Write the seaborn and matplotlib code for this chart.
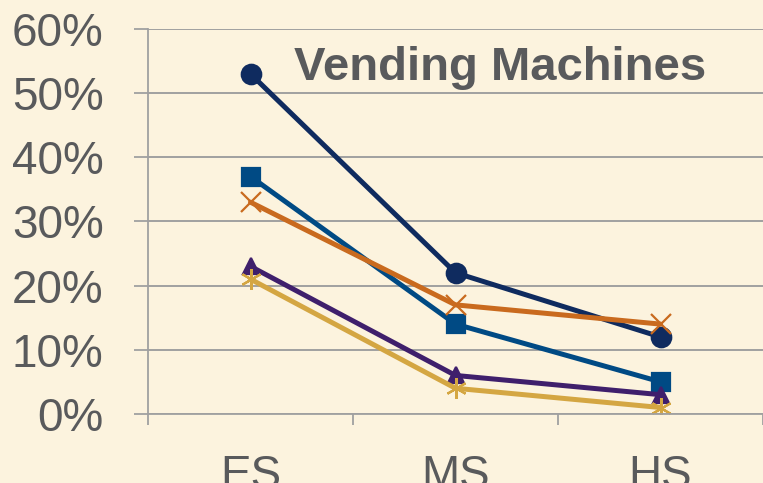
import numpy as np
import pandas as pd
import seaborn as sns
import matplotlib.pyplot as plt
from matplotlib.ticker import FixedLocator, FuncFormatter

# Chart data (share of schools)
levels = ['ES', 'MS', 'HS']
series_names = ['Series A', 'Series B', 'Series C', 'Series D', 'Series E']
series_a = [0.53, 0.22, 0.12]
series_b = [0.37, 0.14, 0.05]
series_c = [0.33, 0.17, 0.14]
series_d = [0.23, 0.06, 0.03]
series_e = [0.21, 0.04, 0.01]
y_ticks = [0.0, 0.1, 0.2, 0.3, 0.4, 0.5, 0.6]
title = 'Vending Machines'

colors = ['#0F2B5F', '#004A84', '#C96A1E', '#3F1F6C', '#D4A642']
markers = ['o', 's', 'x', '^', (6, 2, 0)]
msizes = [14, 13, 14, 12, 15]

bg = '#FCF3DE'
grey = '#A0A0A0'
text_grey = '#595A5C'

sns.set_style('white')
plt.rcParams['font.family'] = ['Liberation Sans', 'DejaVu Sans']

fig = plt.figure(figsize=(7.63, 4.83), dpi=100, facecolor=bg)
ax = fig.add_axes([0.194, 0.143, 0.806, 0.797])
ax.set_facecolor(bg)

# one seaborn call per series (filled and line markers can't share a style map)
all_vals = [series_a, series_b, series_c, series_d, series_e]
for name, vals, c, m, ms in zip(series_names, all_vals, colors, markers, msizes):
    d = pd.DataFrame({'pos': range(len(levels)), 'value': vals})
    sns.lineplot(data=d, x='pos', y='value', color=c, marker=m, linewidth=3.6,
                 markersize=ms, markeredgewidth=1.6, markeredgecolor=c,
                 markerfacecolor=c, ax=ax)

ax.set_xlim(-0.5, 2.5)
ax.set_ylim(0, 0.6)
ax.set_yticks(y_ticks)
ax.yaxis.set_major_formatter(FuncFormatter(lambda v, p: f'{v * 100:.0f}%'))

# Category boundaries as ticks, labels in the middle
ax.xaxis.set_major_locator(FixedLocator([-0.5, 0.5, 1.5, 2.5]))
ax.xaxis.set_minor_locator(FixedLocator([0, 1, 2]))
ax.set_xticklabels([])
ax.set_xticklabels(levels, minor=True)
ax.tick_params(axis='x', which='major', length=8, width=1.3, color=grey, direction='out', bottom=True)
ax.tick_params(axis='x', which='minor', length=0, pad=29, labelsize=33, labelcolor=text_grey)
ax.tick_params(axis='y', length=10, width=1.3, color=grey, direction='out', left=True,
               labelsize=33, labelcolor=text_grey, pad=22)

ax.grid(axis='y', color=grey, linewidth=1.4)
ax.set_axisbelow(True)
for side in ['top', 'right']:
    ax.spines[side].set_visible(False)
for side in ['left', 'bottom']:
    ax.spines[side].set_color(grey)
    ax.spines[side].set_linewidth(1.3)

ax.set_xlabel('')
ax.set_ylabel('')

ax.text(1.217, 0.5205, title, ha='center', va='baseline', fontsize=34,
        fontweight='bold', color=text_grey)

fig.savefig('out.png', dpi=100, facecolor=bg)
